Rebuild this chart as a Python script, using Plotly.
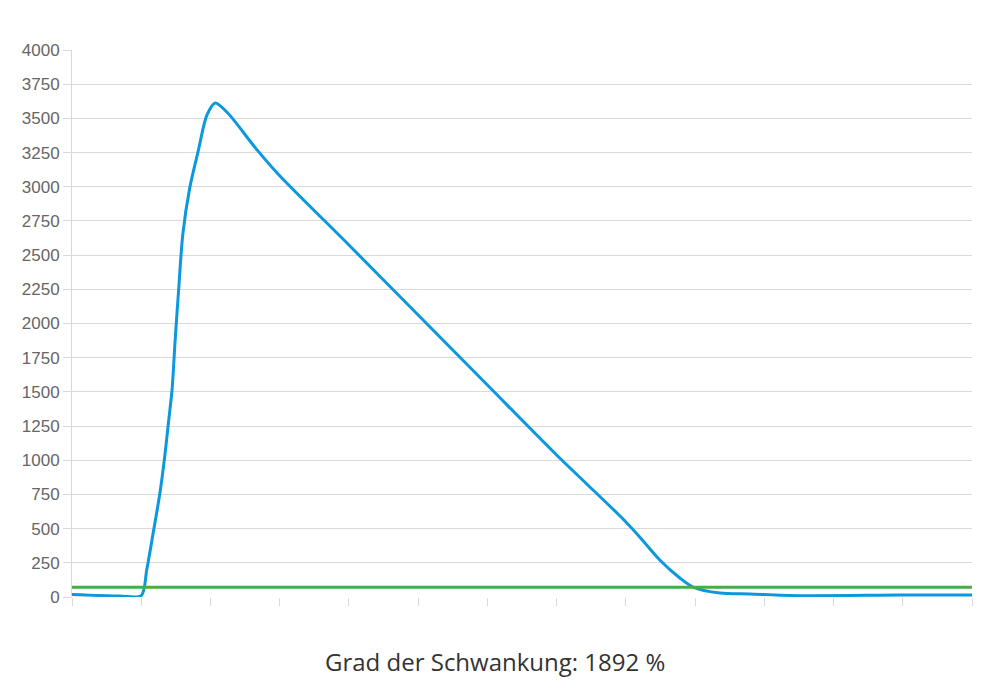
import plotly.graph_objects as go

# read positions (in tick units, 0..13) and values of the blue series
x_pos = [0, 0.69, 1.0, 1.08, 1.17, 1.27, 1.34, 1.39, 1.445, 1.49, 1.54, 1.60, 1.70, 1.82,
         1.95, 2.07, 2.25, 2.64, 2.99, 4, 5, 6, 7, 7.92, 8.20, 8.49, 8.78, 8.97, 9.36,
         9.79, 10.52, 11.96, 13]
values = [18, 7, 10, 200, 460, 760, 1030, 1260, 1514, 1879, 2245, 2650, 2990, 3254,
          3525, 3612, 3539, 3290, 3086, 2574, 2062, 1550, 1038, 590, 439, 271, 139, 73, 29,
          22, 10, 14, 15]
tick_idx = list(range(14))
threshold = [71] * 14
y_ticks = list(range(0, 4001, 250))
title_text = "Grad der Schwankung: 1892 %"

fig = go.Figure()
fig.add_trace(go.Scatter(x=x_pos, y=values, mode="lines",
                         line=dict(color="#0b98de", width=3, shape="spline", smoothing=0.8),
                         hoverinfo="skip"))
fig.add_trace(go.Scatter(x=tick_idx, y=threshold, mode="lines",
                         line=dict(color="#46ad47", width=3),
                         hoverinfo="skip"))

fig.update_layout(
    width=993, height=675,
    margin=dict(l=64, r=29, t=42, b=86),
    plot_bgcolor="white", paper_bgcolor="white",
    showlegend=False,
    font=dict(family="Liberation Sans, Arial, sans-serif", size=17, color="#666666"),
    xaxis=dict(range=[0, 13], tickmode="array", tickvals=tick_idx, ticktext=[""] * 14,
               showgrid=False, zeroline=False, showline=False,
               ticks="outside", ticklen=8, tickcolor="#d9d9d9", tickwidth=1),
    yaxis=dict(range=[0, 4000], tickmode="array", tickvals=y_ticks,
               ticktext=[str(v) for v in y_ticks],
               showgrid=True, gridcolor="#d9d9d9", gridwidth=1,
               zeroline=False, showline=True, linecolor="#d9d9d9", linewidth=1,
               ticks="outside", ticklen=8, tickcolor="#d9d9d9",
               tickfont=dict(size=17, color="#666666")),
    annotations=[dict(text=title_text, xref="paper", yref="paper",
                      x=(495 - 72) / 900, y=-(661 - 597) / 547, xanchor="center", yanchor="middle",
                      showarrow=False,
                      font=dict(family="Open Sans, sans-serif", size=24, color="#333333"))],
)

fig.write_html("out.html")
